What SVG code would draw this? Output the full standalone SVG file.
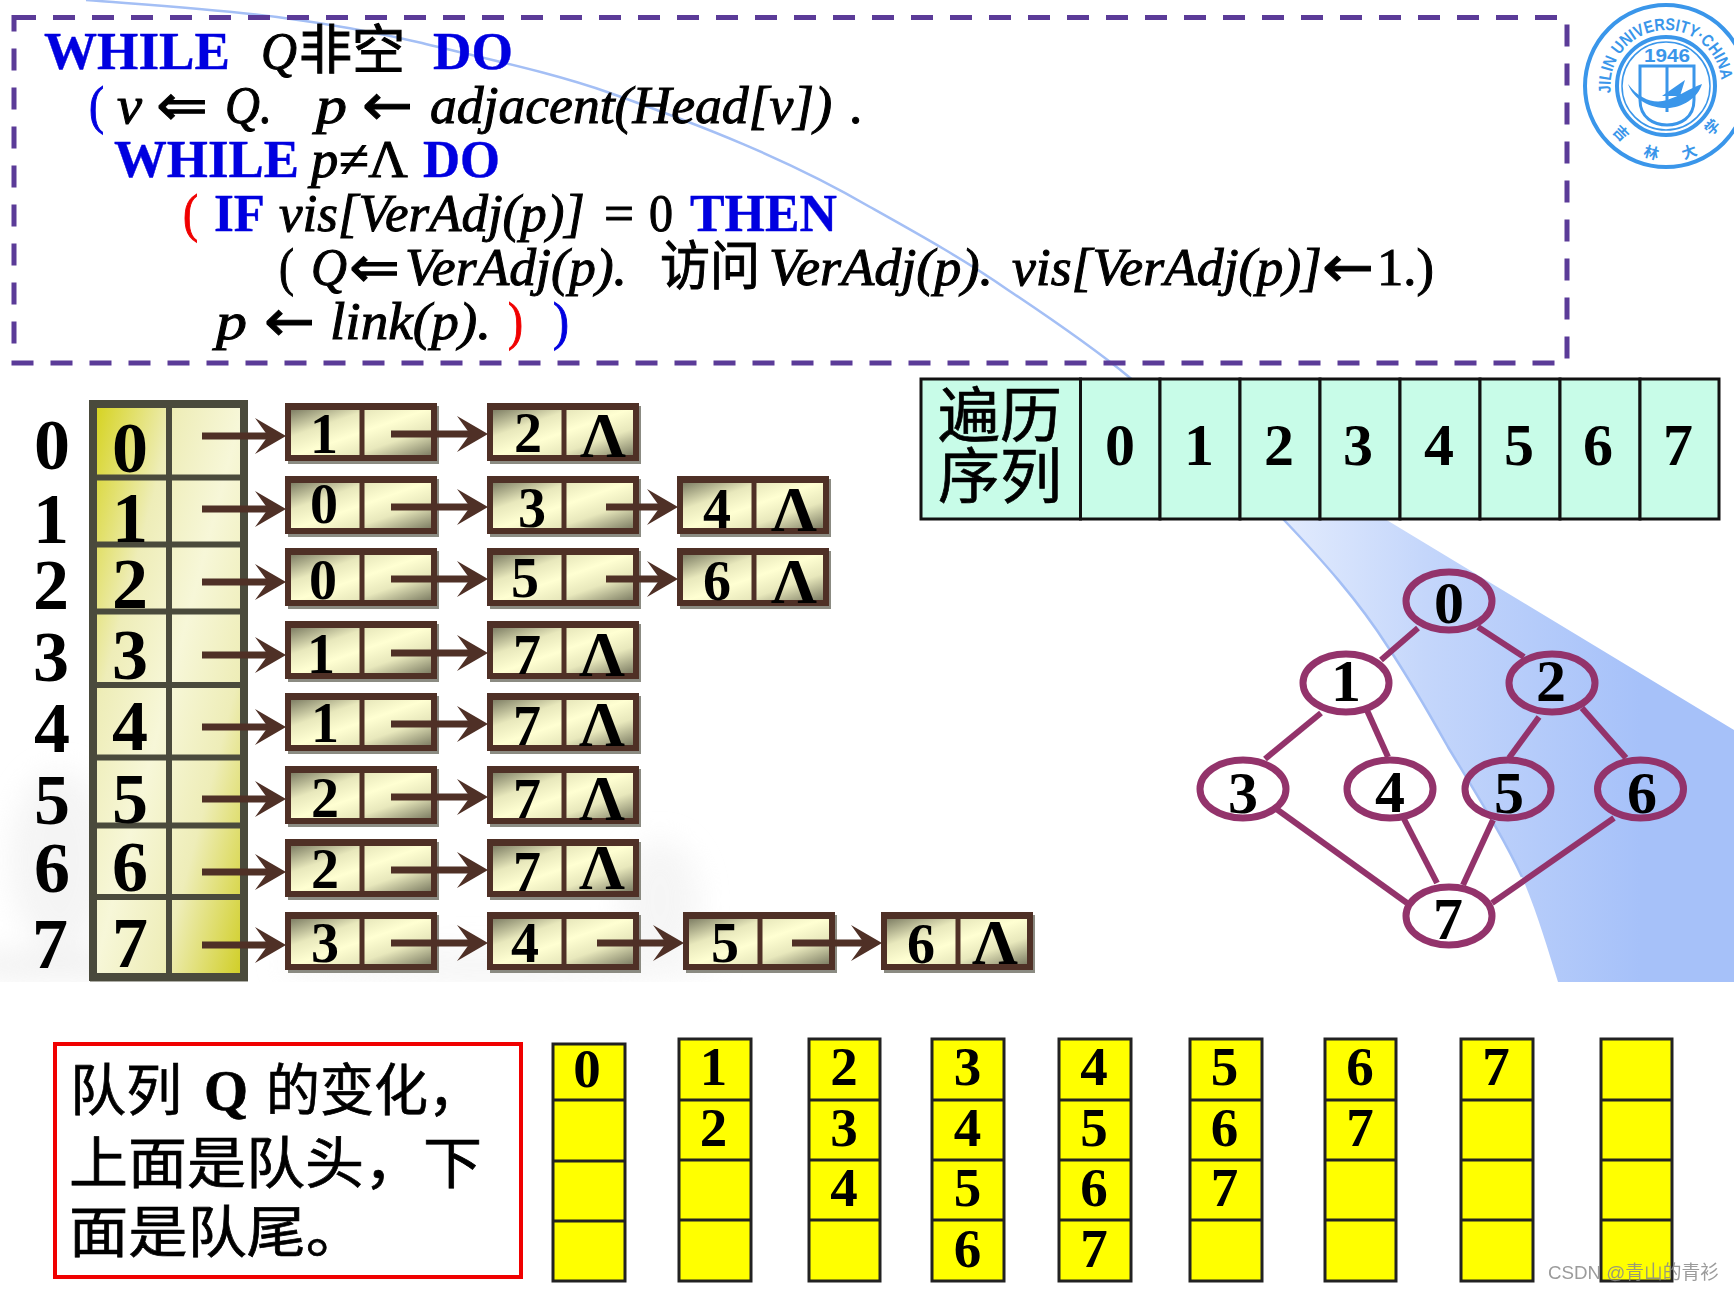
<svg xmlns="http://www.w3.org/2000/svg" width="1734" height="1290" viewBox="0 0 1734 1290">
<style>
text{font-family:"Liberation Serif","Noto Sans CJK SC",serif;fill:#000}
.c{font-size:53px;stroke:#000;stroke-width:1px}
.i{font-style:italic}
.ra{font-family:"DejaVu Sans",sans-serif;font-size:58px;stroke:#000;stroke-width:1px}
.b{font-weight:bold;fill:#0000e0;stroke:#0000e0;stroke-width:.4px;font-size:53px}
.blue{fill:#0000e0;stroke:#0000e0;font-size:53px;stroke-width:1px}
.red{fill:#f00000;stroke:#f00000;font-size:53px;stroke-width:1px}
.d{font-weight:bold;text-anchor:middle}
.idx{font-size:72px}
.nl{font-size:56px}
.lam{font-size:64px}
.tb{font-size:60px}
.gl{font-size:60px}
.q{font-size:55px}
.cn{font-size:56px;stroke:#000;stroke-width:.7px}
.hd{font-size:60px;stroke:#000;stroke-width:.7px}
.cell{fill:#c8fce8;stroke:#111;stroke-width:3}
.qc{fill:#ffff00;stroke:#222;stroke-width:3}
.ed{stroke:#93336b;stroke-width:6;fill:none}
.el{fill:none;stroke:#93336b;stroke-width:7}
.ar{stroke:#4f3026;stroke-width:7;fill:none;marker-end:url(#ah)}
.gd{stroke:#4a4a3c;stroke-width:6;fill:none}
.lg{fill:none;stroke:#3a96ea}
.lt{fill:#3a96ea;font-family:"Liberation Sans","Noto Sans CJK SC",sans-serif;font-weight:bold}
</style>
<defs>
<linearGradient id="bluef" gradientUnits="userSpaceOnUse" x1="1284" y1="0" x2="1640" y2="0"><stop offset="0" stop-color="#e2ebfd"/><stop offset=".4" stop-color="#c4d6fb"/><stop offset="1" stop-color="#a6c1f9"/></linearGradient>
<linearGradient id="tg" x1="0" y1="0" x2="1" y2="1"><stop offset="0" stop-color="#d5d21a"/><stop offset=".28" stop-color="#eeedb8"/><stop offset=".5" stop-color="#f7f7d8"/><stop offset=".72" stop-color="#eeedb8"/><stop offset="1" stop-color="#cfcd20"/></linearGradient>
<linearGradient id="ng" x1="0" y1="0" x2="1" y2="1"><stop offset="0" stop-color="#6f6f58"/><stop offset=".3" stop-color="#e8e8bc"/><stop offset=".5" stop-color="#ffffd2"/><stop offset=".7" stop-color="#e8e8bc"/><stop offset="1" stop-color="#6f6f58"/></linearGradient>
<marker id="ah" markerUnits="userSpaceOnUse" markerWidth="32" markerHeight="36" viewBox="0 0 32 36" refX="13" refY="18" orient="auto"><path d="M0 0 L31 18 L0 36 L13 18 Z" fill="#4f3026"/></marker>
<g id="ns"><rect x="3" y="3" width="151" height="58" fill="#8b8b82"/><rect x="3" y="4" width="146" height="51" fill="url(#ng)" stroke="#4f3026" stroke-width="6"/><rect x="0" y="0" width="152" height="7" fill="#4f3026"/><line x1="77" y1="3" x2="77" y2="56" stroke="#4f3026" stroke-width="5"/></g>
<filter id="bl" x="-30%" y="-50%" width="160%" height="200%"><feGaussianBlur stdDeviation="14"/></filter>
<clipPath id="smc"><rect x="0" y="740" width="1050" height="242"/></clipPath>
<path id="arcT" d="M1611 93 A55.500 55.500 0 1 1 1721 93"/>
</defs>

<g id="background">
<g clip-path="url(#smc)" opacity=".55"><g filter="url(#bl)"><ellipse cx="60" cy="860" rx="50" ry="90" fill="#ececec"/><ellipse cx="60" cy="965" rx="110" ry="15" fill="#e6e6e6"/><ellipse cx="500" cy="965" rx="220" ry="18" fill="#eeeeee"/><ellipse cx="660" cy="900" rx="40" ry="60" fill="#eeeeee"/></g></g>
<path d="M1284 519 C1322 560 1358 600 1388 647 C1410 680 1430 715 1448 747 C1480 800 1505 840 1522 877 C1538 915 1548 950 1558 982 L1734 982 L1734 730 L1385 519 Z" fill="url(#bluef)"/>
<path d="M86 0 C150 5 215 9 277 17 C330 24 375 32 422 43 C490 60 550 72 610 93 C700 125 790 160 870 207 C920 235 965 260 1008 290 C1050 318 1090 345 1129 377 C1185 420 1235 470 1284 520 C1322 560 1358 600 1388 647 C1410 680 1430 715 1448 747 C1480 800 1505 840 1522 877" fill="none" stroke="#a4bff5" stroke-width="2.500"/>
</g>

<g id="logo">
<circle class="lg" cx="1666" cy="86" r="81" stroke-width="4"/>
<circle class="lg" cx="1666" cy="86" r="49" stroke-width="4"/>
<circle class="lg" cx="1666" cy="86" r="44" stroke-width="1.500"/>
<text class="lt" font-size="17"><textPath href="#arcT" textLength="176" lengthAdjust="spacingAndGlyphs">JILIN UNIVERSITY·CHINA</textPath></text>
<text class="lt" x="1667" y="62" font-size="19" text-anchor="middle" textLength="46" lengthAdjust="spacingAndGlyphs">1946</text>
<path class="lg" stroke-width="3" d="M1640 66 H1694 V100 C1694 118 1680 125 1667 125 C1654 125 1640 118 1640 100 Z M1667 66 V112"/>
<path d="M1628 84 C1640 100 1655 104 1667 100 C1680 96 1690 88 1702 84 C1698 98 1682 108 1667 108 C1650 108 1634 100 1628 84 Z M1662 96 L1685 80 L1680 96 Z" fill="#3a96ea"/>
<text class="lt" font-size="15" transform="translate(1617 137) rotate(45)" text-anchor="middle">吉</text>
<text class="lt" font-size="15" transform="translate(1650 158) rotate(15)" text-anchor="middle">林</text>
<text class="lt" font-size="15" transform="translate(1691 157) rotate(-20)" text-anchor="middle">大</text>
<text class="lt" font-size="15" transform="translate(1716 131) rotate(-45)" text-anchor="middle">学</text>
</g>

<g id="code-box">
<rect x="14" y="17.500" width="1553" height="345.500" fill="none" stroke="#5b3b98" stroke-width="5" stroke-dasharray="22 17"/>
<g id="code-text">
<text class="b" x="44" y="69" textLength="186" lengthAdjust="spacingAndGlyphs">WHILE</text>
<text class="c i" x="261" y="69" textLength="36" lengthAdjust="spacingAndGlyphs">Q</text>
<text class="c" x="299" y="69" textLength="106" lengthAdjust="spacingAndGlyphs">非空</text>
<text class="b" x="433" y="69" textLength="80" lengthAdjust="spacingAndGlyphs">DO</text>
<text class="blue" x="89" y="123" textLength="15" lengthAdjust="spacingAndGlyphs">(</text>
<text class="c i" x="117" y="123" textLength="25" lengthAdjust="spacingAndGlyphs">v</text>
<text class="ra" x="156" y="125" textLength="52" lengthAdjust="spacingAndGlyphs">⇐</text>
<text class="c i" x="225" y="123" textLength="47" lengthAdjust="spacingAndGlyphs">Q.</text>
<text class="c i" x="316" y="123" textLength="31" lengthAdjust="spacingAndGlyphs">p</text>
<text class="ra" x="362" y="125" textLength="51" lengthAdjust="spacingAndGlyphs">←</text>
<text class="c i" x="430" y="123" textLength="402" lengthAdjust="spacingAndGlyphs">adjacent(Head[v])</text>
<text class="c" x="849" y="123">.</text>
<text class="b" x="114" y="177" textLength="185" lengthAdjust="spacingAndGlyphs">WHILE</text>
<text class="c i" x="311" y="177" textLength="97" lengthAdjust="spacingAndGlyphs">p≠<tspan font-style="normal">Λ</tspan></text>
<text class="b" x="423" y="177" textLength="77" lengthAdjust="spacingAndGlyphs">DO</text>
<text class="red" x="183" y="231" textLength="15" lengthAdjust="spacingAndGlyphs">(</text>
<text class="b" x="214" y="231" textLength="51" lengthAdjust="spacingAndGlyphs">IF</text>
<text class="c i" x="279" y="231" textLength="306" lengthAdjust="spacingAndGlyphs">vis[VerAdj(p)]</text>
<text class="c" x="604" y="231" textLength="30" lengthAdjust="spacingAndGlyphs">=</text>
<text class="c" x="649" y="231" textLength="24" lengthAdjust="spacingAndGlyphs">0</text>
<text class="b" x="690" y="231" textLength="147" lengthAdjust="spacingAndGlyphs">THEN</text>
<text class="c" x="279" y="285" textLength="15" lengthAdjust="spacingAndGlyphs">(</text>
<text class="c i" x="311" y="285" textLength="36" lengthAdjust="spacingAndGlyphs">Q</text>
<text class="ra" x="349" y="287" textLength="51" lengthAdjust="spacingAndGlyphs">⇐</text>
<text class="c i" x="405" y="285" textLength="222" lengthAdjust="spacingAndGlyphs">VerAdj(p).</text>
<text class="c" x="660" y="285" textLength="100" lengthAdjust="spacingAndGlyphs">访问</text>
<text class="c i" x="769" y="285" textLength="224" lengthAdjust="spacingAndGlyphs">VerAdj(p).</text>
<text class="c i" x="1012" y="285" textLength="310" lengthAdjust="spacingAndGlyphs">vis[VerAdj(p)]</text>
<text class="ra" x="1322" y="287" textLength="52" lengthAdjust="spacingAndGlyphs">←</text>
<text class="c" x="1377" y="285" textLength="57" lengthAdjust="spacingAndGlyphs">1.)</text>
<text class="c i" x="216" y="339" textLength="31" lengthAdjust="spacingAndGlyphs">p</text>
<text class="ra" x="264" y="341" textLength="51" lengthAdjust="spacingAndGlyphs">←</text>
<text class="c i" x="330" y="339" textLength="161" lengthAdjust="spacingAndGlyphs">link(p).</text>
<text class="red" x="508" y="339" textLength="15" lengthAdjust="spacingAndGlyphs">)</text>
<text class="blue" x="553" y="339" textLength="16" lengthAdjust="spacingAndGlyphs">)</text>
</g>
</g>

<g id="traversal-table">
<rect class="cell" x="921" y="379" width="159.500" height="140"/>
<rect class="cell" x="1080.500" y="379" width="79.500" height="140"/>
<rect class="cell" x="1160" y="379" width="80" height="140"/>
<rect class="cell" x="1240" y="379" width="80" height="140"/>
<rect class="cell" x="1320" y="379" width="80" height="140"/>
<rect class="cell" x="1400" y="379" width="80" height="140"/>
<rect class="cell" x="1480" y="379" width="80" height="140"/>
<rect class="cell" x="1560" y="379" width="80" height="140"/>
<rect class="cell" x="1640" y="379" width="79" height="140"/>
<text class="hd" x="938" y="437" textLength="124" lengthAdjust="spacingAndGlyphs">遍历</text>
<text class="hd" x="938" y="498" textLength="124" lengthAdjust="spacingAndGlyphs">序列</text>
<text class="d tb" x="1120" y="465">0</text><text class="d tb" x="1199" y="465">1</text><text class="d tb" x="1279" y="465">2</text><text class="d tb" x="1358" y="465">3</text><text class="d tb" x="1439" y="465">4</text><text class="d tb" x="1519" y="465">5</text><text class="d tb" x="1598" y="465">6</text><text class="d tb" x="1678" y="465">7</text>
</g>

<g id="head-table">
<rect x="90" y="400" width="158" height="582" fill="#8b8b82" opacity=".7"/>
<rect x="93" y="404" width="151" height="573" fill="url(#tg)" stroke="#4a4a3c" stroke-width="8"/>
<path class="gd" d="M169 404V977 M93 477.500H244 M93 544.500H244 M93 611.500H244 M93 685H244 M93 757.500H244 M93 825.500H244 M93 897H244"/>
<g id="idx-labels">
<text class="d idx" x="52" y="469">0</text><text class="d idx" x="51" y="543">1</text><text class="d idx" x="51" y="609">2</text><text class="d idx" x="51" y="681">3</text><text class="d idx" x="52" y="752">4</text><text class="d idx" x="52" y="824">5</text><text class="d idx" x="52" y="892">6</text><text class="d idx" x="50" y="968">7</text>
</g>
<text class="d idx" x="130" y="472">0</text><text class="d idx" x="130" y="542">1</text><text class="d idx" x="130" y="608">2</text><text class="d idx" x="130" y="679">3</text><text class="d idx" x="130" y="750">4</text><text class="d idx" x="130" y="823">5</text><text class="d idx" x="130" y="891">6</text><text class="d idx" x="130" y="967">7</text>
</g>

<g id="list-nodes">
<g id="n0a"><use href="#ns" x="285" y="403"/><text class="d nl" x="324" y="453">1</text></g>
<g id="n0b"><use href="#ns" x="487" y="403"/><text class="d nl" x="528" y="452">2</text><text class="d lam" x="603" y="457">Λ</text></g>
<g id="n1a"><use href="#ns" x="285" y="476"/><text class="d nl" x="324" y="523">0</text></g>
<g id="n1b"><use href="#ns" x="487" y="476"/><text class="d nl" x="532" y="527">3</text></g>
<g id="n1c"><use href="#ns" x="677" y="476"/><text class="d nl" x="717" y="528">4</text><text class="d lam" x="794" y="531">Λ</text></g>
<g id="n2a"><use href="#ns" x="285" y="548"/><text class="d nl" x="323" y="599">0</text></g>
<g id="n2b"><use href="#ns" x="487" y="548"/><text class="d nl" x="525" y="597">5</text></g>
<g id="n2c"><use href="#ns" x="677" y="548"/><text class="d nl" x="717" y="600">6</text><text class="d lam" x="794" y="603">Λ</text></g>
<g id="n3a"><use href="#ns" x="285" y="621"/><text class="d nl" x="321" y="673">1</text></g>
<g id="n3b"><use href="#ns" x="487" y="621"/><text class="d nl" x="527" y="674">7</text><text class="d lam" x="602" y="676">Λ</text></g>
<g id="n4a"><use href="#ns" x="285" y="693"/><text class="d nl" x="325" y="742">1</text></g>
<g id="n4b"><use href="#ns" x="487" y="693"/><text class="d nl" x="527" y="745">7</text><text class="d lam" x="602" y="746">Λ</text></g>
<g id="n5a"><use href="#ns" x="285" y="766"/><text class="d nl" x="325" y="817">2</text></g>
<g id="n5b"><use href="#ns" x="487" y="766"/><text class="d nl" x="527" y="818">7</text><text class="d lam" x="602" y="820">Λ</text></g>
<g id="n6a"><use href="#ns" x="285" y="839"/><text class="d nl" x="325" y="888">2</text></g>
<g id="n6b"><use href="#ns" x="487" y="839"/><text class="d nl" x="527" y="891">7</text><text class="d lam" x="602" y="889">Λ</text></g>
<g id="n7a"><use href="#ns" x="285" y="912"/><text class="d nl" x="325" y="962">3</text></g>
<g id="n7b"><use href="#ns" x="487" y="912"/><text class="d nl" x="525" y="962">4</text></g>
<g id="n7c"><use href="#ns" x="683" y="912"/><text class="d nl" x="725" y="962">5</text></g>
<g id="n7d"><use href="#ns" x="881" y="912"/><text class="d nl" x="921" y="963">6</text><text class="d lam" x="995" y="964">Λ</text></g>
</g>

<g id="list-connectors">
<line class="ar" x1="202" y1="436" x2="268" y2="436"/><line class="ar" x1="391" y1="434" x2="470" y2="434"/>
<line class="ar" x1="202" y1="509" x2="268" y2="509"/><line class="ar" x1="391" y1="507" x2="470" y2="507"/><line class="ar" x1="606" y1="507" x2="660" y2="507"/>
<line class="ar" x1="202" y1="582" x2="268" y2="582"/><line class="ar" x1="391" y1="579" x2="470" y2="579"/><line class="ar" x1="606" y1="579" x2="660" y2="579"/>
<line class="ar" x1="202" y1="655" x2="268" y2="655"/><line class="ar" x1="391" y1="653" x2="470" y2="653"/>
<line class="ar" x1="202" y1="727" x2="268" y2="727"/><line class="ar" x1="391" y1="724" x2="470" y2="724"/>
<line class="ar" x1="202" y1="799" x2="268" y2="799"/><line class="ar" x1="391" y1="797" x2="470" y2="797"/>
<line class="ar" x1="202" y1="872" x2="268" y2="872"/><line class="ar" x1="391" y1="870" x2="470" y2="870"/>
<line class="ar" x1="202" y1="945" x2="268" y2="945"/><line class="ar" x1="391" y1="943" x2="470" y2="943"/><line class="ar" x1="597" y1="943" x2="666" y2="943"/><line class="ar" x1="792" y1="943" x2="864" y2="943"/>
</g>

<g id="graph-connectors">
<line class="ed" x1="1418" y1="628" x2="1381" y2="660"/><line class="ed" x1="1478" y1="627" x2="1524" y2="657"/>
<line class="ed" x1="1321" y1="713" x2="1265" y2="759"/><line class="ed" x1="1366" y1="708" x2="1388" y2="757"/>
<line class="ed" x1="1539" y1="717" x2="1509" y2="758"/><line class="ed" x1="1582" y1="708" x2="1626" y2="758"/>
<line class="ed" x1="1275" y1="808" x2="1407" y2="903"/><line class="ed" x1="1404" y1="819" x2="1437" y2="883"/>
<line class="ed" x1="1493" y1="820" x2="1463" y2="885"/><line class="ed" x1="1614" y1="818" x2="1492" y2="903"/>
</g>
<g id="graph-nodes">
<g id="g0"><ellipse class="el" cx="1449" cy="601" rx="43" ry="29"/><text class="d gl" x="1449" y="623">0</text></g>
<g id="g1"><ellipse class="el" cx="1346" cy="683" rx="43" ry="29"/><text class="d gl" x="1346" y="701">1</text></g>
<g id="g2"><ellipse class="el" cx="1552" cy="683" rx="43" ry="29"/><text class="d gl" x="1551" y="701">2</text></g>
<g id="g3"><ellipse class="el" cx="1243" cy="789" rx="43" ry="29"/><text class="d gl" x="1243" y="813">3</text></g>
<g id="g4"><ellipse class="el" cx="1390" cy="789" rx="43" ry="29"/><text class="d gl" x="1390" y="812">4</text></g>
<g id="g5"><ellipse class="el" cx="1508" cy="789" rx="43" ry="29"/><text class="d gl" x="1509" y="813">5</text></g>
<g id="g6"><ellipse class="el" cx="1640.500" cy="789" rx="43" ry="29"/><text class="d gl" x="1642" y="813">6</text></g>
<g id="g7"><ellipse class="el" cx="1449" cy="916" rx="43" ry="29"/><text class="d gl" x="1448" y="939">7</text></g>
</g>

<g id="queue-note">
<rect x="55" y="1044" width="466" height="233" fill="#fff" stroke="#f00000" stroke-width="4"/>
<text class="cn" x="70" y="1110" textLength="112" lengthAdjust="spacingAndGlyphs">队列</text>
<text class="cn" x="204" y="1110" font-weight="bold" textLength="44" lengthAdjust="spacingAndGlyphs">Q</text>
<text class="cn" x="266" y="1110" textLength="216" lengthAdjust="spacingAndGlyphs">的变化，</text>
<text class="cn" x="69" y="1183" textLength="413" lengthAdjust="spacingAndGlyphs">上面是队头，下</text>
<text class="cn" x="69" y="1252" textLength="296" lengthAdjust="spacingAndGlyphs">面是队尾。</text>
</g>

<g id="queues">
<g id="q0"><path class="qc" d="M553 1044H625V1281H553Z"/><path class="qc" d="M553 1100H625M553 1161H625M553 1221H625"/><text class="d q" x="587" y="1087">0</text></g>
<g id="q1"><path class="qc" d="M679 1039H751V1281H679Z"/><path class="qc" d="M679 1100H751M679 1160H751M679 1220H751"/><text class="d q" x="713.500" y="1085">1</text><text class="d q" x="713.500" y="1146">2</text></g>
<g id="q2"><path class="qc" d="M809 1039H880V1281H809Z"/><path class="qc" d="M809 1100H880M809 1160H880M809 1220H880"/><text class="d q" x="844" y="1085">2</text><text class="d q" x="844" y="1146">3</text><text class="d q" x="844" y="1206">4</text></g>
<g id="q3"><path class="qc" d="M932 1039H1004V1281H932Z"/><path class="qc" d="M932 1100H1004M932 1160H1004M932 1220H1004"/><text class="d q" x="967.500" y="1085">3</text><text class="d q" x="967.500" y="1146">4</text><text class="d q" x="967.500" y="1206">5</text><text class="d q" x="967.500" y="1267">6</text></g>
<g id="q4"><path class="qc" d="M1059 1039H1131V1281H1059Z"/><path class="qc" d="M1059 1100H1131M1059 1160H1131M1059 1220H1131"/><text class="d q" x="1094" y="1085">4</text><text class="d q" x="1094" y="1146">5</text><text class="d q" x="1094" y="1206">6</text><text class="d q" x="1094" y="1267">7</text></g>
<g id="q5"><path class="qc" d="M1190 1039H1262V1281H1190Z"/><path class="qc" d="M1190 1100H1262M1190 1160H1262M1190 1220H1262"/><text class="d q" x="1224.500" y="1085">5</text><text class="d q" x="1224.500" y="1146">6</text><text class="d q" x="1224.500" y="1206">7</text></g>
<g id="q6"><path class="qc" d="M1325 1039H1396V1281H1325Z"/><path class="qc" d="M1325 1100H1396M1325 1160H1396M1325 1220H1396"/><text class="d q" x="1360" y="1085">6</text><text class="d q" x="1360" y="1146">7</text></g>
<g id="q7"><path class="qc" d="M1461 1039H1533V1281H1461Z"/><path class="qc" d="M1461 1100H1533M1461 1160H1533M1461 1220H1533"/><text class="d q" x="1496" y="1085">7</text></g>
<g id="q8"><path class="qc" d="M1601 1039H1672V1281H1601Z"/><path class="qc" d="M1601 1100H1672M1601 1160H1672M1601 1220H1672"/></g>
</g>

<text id="watermark" x="1548" y="1279" font-size="19" textLength="171" lengthAdjust="spacingAndGlyphs" style="font-family:'Liberation Sans','Noto Sans CJK SC',sans-serif;fill:#8a8a8a;opacity:.85">CSDN @青山的青衫</text>
</svg>
